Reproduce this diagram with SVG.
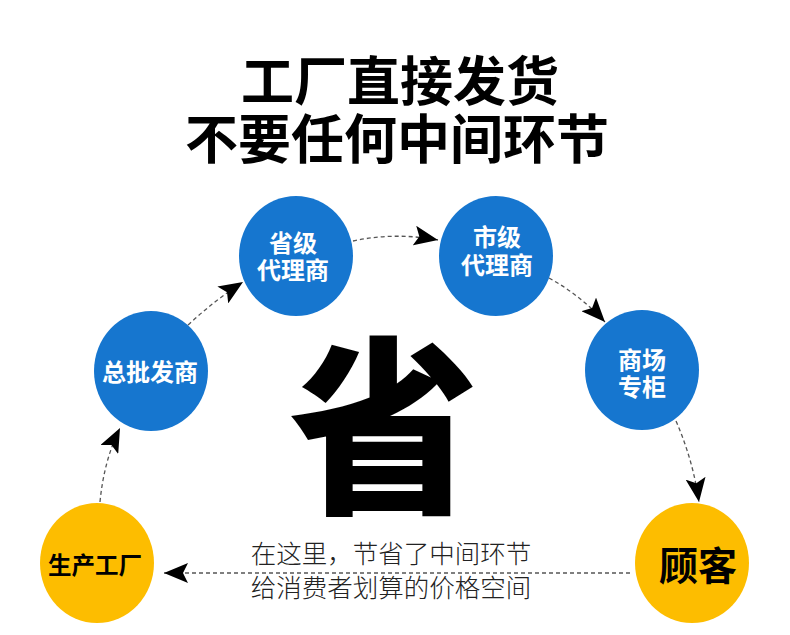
<svg xmlns="http://www.w3.org/2000/svg" width="790" height="635" viewBox="0 0 790 635">
<defs>
<style>
.t{font-family:"Noto Sans CJK SC","Noto Sans CJK JP",sans-serif;text-anchor:middle}
.title{font-size:53px;font-weight:bold;fill:#000}
.blue{fill:#1676CF}
.yellow{fill:#FDBD00}
.wl{font-size:24px;font-weight:bold;fill:#fff}
.con{fill:none;stroke:#555;stroke-width:1.3;stroke-dasharray:4 3;marker-end:url(#arr)}
.cap{font-size:25.5px;font-weight:300;fill:#222}
</style>
<marker id="arr" viewBox="0 0 24 20" refX="24" refY="10" markerWidth="24" markerHeight="20" markerUnits="userSpaceOnUse" orient="auto">
<path d="M0,0 L24,10 L0,20 L5,10 z" fill="#000"/>
</marker>
</defs>
<rect width="790" height="635" fill="#fff"/>
<g id="title">
<text class="t title" x="400" y="101">工厂直接发货</text>
<text class="t title" x="397" y="159">不要任何中间环节</text>
</g>
<g id="big">
<text class="t" x="384" y="498" font-size="190" font-weight="900" fill="#000">省</text>
</g>
<g id="connectors">
<path class="con" d="M100,502 Q104,460 120,428"/>
<path class="con" d="M188,325 Q215,300 243,282"/>
<path class="con" d="M353,241 Q395,232 438,240"/>
<path class="con" d="M549,278 Q580,295 605,322"/>
<path class="con" d="M676,421 Q693,460 699,502"/>
<path class="con" d="M630,573 L164,573" stroke-dasharray="3 3"/>
</g>
<g id="caption">
<text class="t cap" x="391" y="563">在这里，节省了中间环节</text>
<text class="t cap" x="391" y="597">给消费者划算的价格空间</text>
</g>
<g id="n-zongpifa">
<ellipse class="blue" cx="151" cy="371" rx="57" ry="60"/>
<text class="t wl" x="150" y="381">总批发商</text>
</g>
<g id="n-shengji">
<ellipse class="blue" cx="296" cy="256" rx="57" ry="60"/>
<text class="t wl" x="293" y="252">省级</text>
<text class="t wl" x="293" y="279">代理商</text>
</g>
<g id="n-shiji">
<ellipse class="blue" cx="496" cy="256" rx="57" ry="60"/>
<text class="t wl" x="497" y="246">市级</text>
<text class="t wl" x="497" y="274">代理商</text>
</g>
<g id="n-shangchang">
<ellipse class="blue" cx="642" cy="370" rx="57" ry="60"/>
<text class="t wl" x="642" y="369">商场</text>
<text class="t wl" x="642" y="396">专柜</text>
</g>
<g id="n-factory">
<ellipse class="yellow" cx="97" cy="563" rx="57" ry="60"/>
<text class="t" x="95" y="574" font-size="23.5" font-weight="bold" fill="#000">生产工厂</text>
</g>
<g id="n-customer">
<ellipse class="yellow" cx="692" cy="563" rx="57" ry="60"/>
<text class="t" x="698" y="580" font-size="39" font-weight="bold" fill="#000">顾客</text>
</g>
</svg>
